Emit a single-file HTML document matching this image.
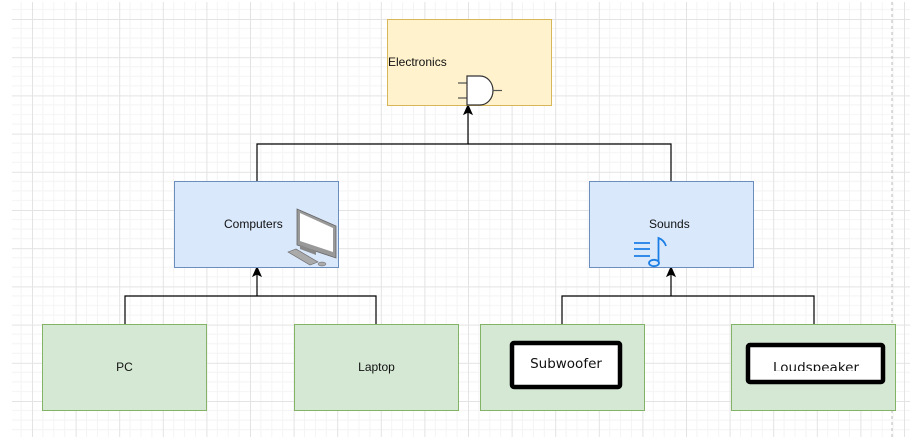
<!DOCTYPE html>
<html><head><meta charset="utf-8"><style>
html,body{margin:0;padding:0;background:#fff;}
svg{display:block;font-family:"Liberation Sans",Arial,sans-serif;}
</style></head><body>
<svg width="910" height="445" viewBox="0 0 910 445" xmlns="http://www.w3.org/2000/svg">
<defs>
<pattern id="g" x="32" y="19" width="43.6" height="38.2" patternUnits="userSpaceOnUse">
<path d="M10.9 0V38.2M21.8 0V38.2M32.7 0V38.2M0 9.55H43.6M0 19.1H43.6M0 28.65H43.6" stroke="#f4f4f4" stroke-width="1" fill="none"/>
<path d="M0.5 0V38.2M0 0.5H43.6" stroke="#e3e3e3" stroke-width="1" fill="none"/>
</pattern>
</defs>
<rect x="12" y="2" width="898" height="435" fill="url(#g)"/>
<line x1="892" y1="2" x2="892" y2="437" stroke="#bbb" stroke-dasharray="3,3"/>

<!-- connectors -->
<path d="M257 181V144H671V181M468 144V110" fill="none" stroke="#000" stroke-width="1.2"/>
<path d="M468 105L464 114L468 112L472 114Z" fill="#000" stroke="#000"/>
<path d="M125 324V296H376V324M257 296V272" fill="none" stroke="#000" stroke-width="1.2"/>
<path d="M257 267L253 276L257 274L261 276Z" fill="#000" stroke="#000"/>
<path d="M562 324V296H814V324M671 296V272" fill="none" stroke="#000" stroke-width="1.2"/>
<path d="M671 267L667 276L671 274L675 276Z" fill="#000" stroke="#000"/>

<!-- Electronics -->
<rect x="387.5" y="19.5" width="164" height="86" fill="#fff2cc" stroke="#d6b656"/>
<text x="388" y="66" font-size="12" fill="#111">Electronics</text>
<path d="M458 83H467M458 98H467" stroke="#555" stroke-width="1.2"/>
<path d="M467 76V105H480A13 14.5 0 0 0 480 76Z" fill="#fff" stroke="#333" stroke-width="1.2"/>
<path d="M493 90.5H502" stroke="#555" stroke-width="1.2"/>

<!-- Computers -->
<rect x="174.5" y="181.5" width="164" height="86" fill="#dae8fc" stroke="#6c8ebf"/>
<text x="224" y="228" font-size="12" fill="#111">Computers</text>
<g>
<path d="M297 209L336 226V258L297 245Z" fill="#999" stroke="#666" stroke-width="0.8"/>
<path d="M300 213L333 228V252L300 241Z" fill="#fff"/>
<path d="M300 245L316 251V255L300 249Z" fill="#888"/>
<path d="M288 252L296 249L318 262L310 265Z" fill="#aaa" stroke="#666" stroke-width="0.6"/>
<ellipse cx="322" cy="264" rx="4" ry="2" fill="#aaa" stroke="#666" stroke-width="0.5"/>
</g>

<!-- Sounds -->
<rect x="589.5" y="181.5" width="164" height="86" fill="#dae8fc" stroke="#6c8ebf"/>
<text x="649" y="228" font-size="12" fill="#111">Sounds</text>
<g stroke="#1a7ee6" stroke-width="1.8" fill="none">
<path d="M634 243H650M634 249H650M634 256H650"/>
<ellipse cx="654" cy="263" rx="5" ry="3.2"/>
<path d="M658.5 262V238Q664 240 666 246"/>
</g>

<!-- bottom -->
<rect x="42.5" y="324.5" width="164" height="86" fill="#d5e8d4" stroke="#82b366"/>
<text x="124.5" y="371" font-size="12" text-anchor="middle" fill="#111">PC</text>
<rect x="294.5" y="324.5" width="164" height="86" fill="#d5e8d4" stroke="#82b366"/>
<text x="376.5" y="371" font-size="12" text-anchor="middle" fill="#111">Laptop</text>
<rect x="480.5" y="324.5" width="164" height="86" fill="#d5e8d4" stroke="#82b366"/>
<rect x="512" y="343" width="108" height="44" rx="2" fill="#fff" stroke="#000" stroke-width="4.5"/>
<text x="566" y="368" font-size="13.5" text-anchor="middle" fill="#111" font-family="DejaVu Sans,sans-serif">Subwoofer</text>
<rect x="731.5" y="324.5" width="164" height="86" fill="#d5e8d4" stroke="#82b366"/>
<rect x="748" y="345" width="135" height="37" rx="2" fill="#fff" stroke="#000" stroke-width="4.5"/>
<clipPath id="c"><rect x="750" y="347" width="131" height="24"/></clipPath>
<text x="816" y="372" font-size="13.5" text-anchor="middle" fill="#111" clip-path="url(#c)" font-family="DejaVu Sans,sans-serif">Loudspeaker</text>
</svg>
</body></html>
